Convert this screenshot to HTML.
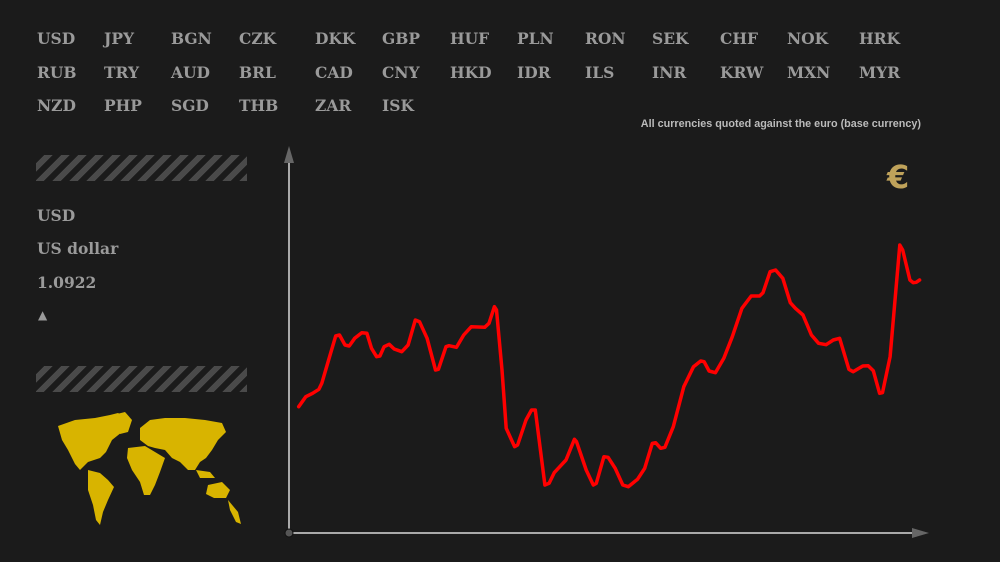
<!DOCTYPE html>
<html><head><meta charset="utf-8">
<style>
body{margin:0;background:#1b1b1b;width:1000px;height:562px;overflow:hidden;position:relative;font-family:"DejaVu Serif","Liberation Serif",serif;}
.cur{position:absolute;color:#9a9a9a;font-weight:bold;font-size:15.5px;line-height:20px;}
.info{position:absolute;left:37px;color:#9a9a9a;font-weight:bold;font-size:15.5px;}
.stripe{position:absolute;left:36px;width:211px;height:26px;background:repeating-linear-gradient(135deg,#1b1b1b 0 6px,#4a4a4a 6px 12px);}
</style></head><body>
<div id="grid"></div>
<div style="position:absolute;right:79px;top:118px;color:#bbb;font:bold 10.8px 'Liberation Sans',sans-serif;white-space:nowrap;">All currencies quoted against the euro (base currency)</div>
<div style="position:absolute;left:887px;top:158px;width:50px;overflow:visible;white-space:nowrap;color:#bfa25a;font:bold 32px 'DejaVu Sans',sans-serif;">€</div>
<div class="stripe" style="top:155px"></div>
<div class="info" style="top:206px">USD</div>
<div class="info" style="top:239px">US dollar</div>
<div class="info" style="top:273px">1.0922</div>
<div class="info" style="top:308px;left:38px;font-size:12px;font-family:'DejaVu Sans',sans-serif;">▲</div>
<div class="stripe" style="top:366px"></div>
<svg style="position:absolute;left:0;top:0" width="260" height="562">
<g fill="#d8b400">
<path d="M58 426 L75 420 L95 418 L110 415 L118 413 L128 418 L122 432 L112 440 L106 452 L100 458 L88 462 L80 470 L75 464 L68 450 L62 440 Z"/>
<path d="M113 415 L125 412 L132 420 L128 432 L120 434 Z"/>
<path d="M88 470 L100 473 L108 480 L114 487 L108 500 L103 512 L100 525 L96 520 L93 505 L88 490 Z"/>
<path d="M140 428 L150 420 L165 418 L185 418 L205 420 L222 423 L226 432 L218 440 L212 450 L206 458 L200 462 L195 470 L188 470 L180 462 L172 458 L165 450 L155 448 L148 446 L140 440 Z"/>
<path d="M128 448 L145 446 L155 452 L165 458 L160 472 L155 485 L150 495 L144 495 L140 482 L132 470 L127 458 Z"/>
<path d="M208 485 L222 482 L230 490 L226 498 L214 498 L206 494 Z"/>
<path d="M228 500 L238 512 L241 524 L236 522 L230 510 Z"/>
<path d="M196 470 L210 472 L215 478 L200 478 Z"/>
</g></svg>
<svg id="chart" style="position:absolute;left:0;top:0" width="1000" height="562"></svg>
<script>
const codes=["USD","JPY","BGN","CZK","DKK","GBP","HUF","PLN","RON","SEK","CHF","NOK","HRK","RUB","TRY","AUD","BRL","CAD","CNY","HKD","IDR","ILS","INR","KRW","MXN","MYR","NZD","PHP","SGD","THB","ZAR","ISK"];
const colX=[37,104,171,239,315,382,450,517,585,652,720,787,859];
const g=document.getElementById('grid');
codes.forEach((c,i)=>{const d=document.createElement('div');d.className='cur';


d.style.left=colX[i%13]+'px';d.style.top=(29+Math.floor(i/13)*33.5)+'px';d.textContent=c;g.appendChild(d);});
</script>
<script>
const days=[45,62,78,93,100,115,133,142,155,165,178,195,207,218,230,238,248,260,272,290,305,322,332,350,370,377,395,402,420,437,455,487,497,510,515,528,538,558,565,585,598,607,630,640,652,680,700,705,728,745,752,770,780,797,815,828,850,867,885,893,905,915,935,960,983,1000,1008,1020,1035,1055,1075,1098,1120,1140,1148,1165,1178,1195,1213,1225,1243,1263,1280,1298,1315,1330,1352,1362,1385,1398,1410,1425,1432,1450,1473,1480,1497,1505,1512,1520];
const zy=[530,500,490,478,460,395,318,315,345,348,325,308,310,355,380,378,350,343,357,365,345,270,275,325,420,418,350,347,352,315,290,292,280,230,240,420,595,650,645,570,540,540,765,760,728,690,628,635,720,765,760,680,682,715,765,770,748,715,640,638,655,652,590,470,410,393,395,423,428,385,320,235,198,198,188,125,120,145,218,235,255,315,340,344,330,325,418,425,408,407,422,490,488,380,45,60,150,158,157,150];
const rates=zy.map(v=>+(1+(900-v)/3000).toFixed(4));
const xS=d=>289+(d-22)*(928-289)/(1540-22);
const yS=v=>530-1000*(v-1);
const svg=document.getElementById('chart');const NS='http://www.w3.org/2000/svg';
function mk(t,a){const e=document.createElementNS(NS,t);for(const k in a)e.setAttribute(k,a[k]);svg.appendChild(e);return e;}
let e;
e=mk('line',{x1:289,y1:533,x2:289,y2:158,stroke:'#aaa',"stroke-width":2});


e=mk('polygon',{points:'284,163 289,146 294,163',fill:'#666'});


e=mk('line',{x1:289,y1:533,x2:915,y2:533,stroke:'#aaa',"stroke-width":2});


e=mk('polygon',{points:'912,528 929,533 912,538',fill:'#666'});


e=mk('circle',{cx:289,cy:533,r:4,fill:'#555',stroke:'#111'});


const pts=days.map((d,i)=>xS(d).toFixed(1)+','+yS(rates[i]).toFixed(1)).join(' ');
e=mk('polyline',{points:pts,fill:'none',stroke:'#ff0000',"stroke-width":3.5,"stroke-linejoin":'round',"stroke-linecap":'round'});


</script>
</body></html>
